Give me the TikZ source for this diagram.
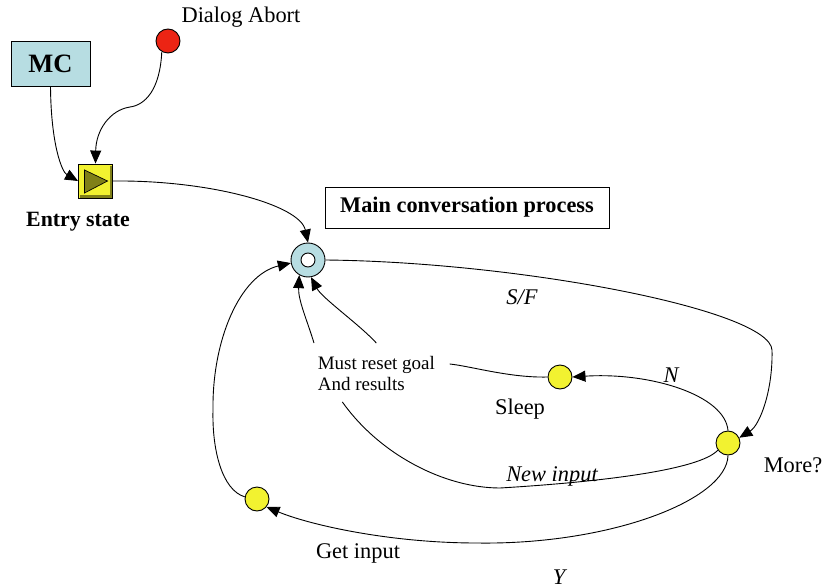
\documentclass[tikz,border=0pt]{standalone}
\usepackage{fontspec}
\setmainfont{Liberation Serif}
\usetikzlibrary{arrows.meta}
\definecolor{mcblue}{RGB}{183,221,226}
\definecolor{stateyellow}{RGB}{242,242,48}
\definecolor{abortred}{RGB}{236,36,20}
\definecolor{entryolive}{RGB}{128,128,24}

\begin{document}
\begin{tikzpicture}[x=1pt, y=-1pt, line width=0.9pt,
    every node/.style={font=\fontsize{22.4}{26}\selectfont},
    state/.style={circle, draw, fill=stateyellow, minimum size=24pt, inner sep=0pt},
    flow/.style={-{Triangle[length=13pt,width=11pt]}},
    cond/.style={font=\fontsize{22.4}{26}\selectfont\itshape}]
    \useasboundingbox (0,0) rectangle (824,588);

    % Inputs: MC and the abort signal
    \node[draw, fill=mcblue, minimum width=79pt, minimum height=45pt,
          font=\fontsize{26.5}{30}\selectfont\bfseries] (mc) at (50.5,63.5) {MC};
    \node[circle, draw, fill=abortred, minimum size=24pt, inner sep=0pt] (abort) at (168,41) {};
    \node (abortlbl) at (241,17) {Dialog Abort};

    % Entry state (yellow box with play mark)
    \node[draw, fill=stateyellow, minimum size=34pt, inner sep=0pt] (entry) at (95.5,181) {};
    \draw[entryolive, line width=2.5pt] ([shift={(2pt,2pt)}]entry.south west)
        -- ([shift={(-2pt,2pt)}]entry.south east) -- ([shift={(-2pt,-2pt)}]entry.north east);
    \filldraw[fill=entryolive, line width=0.7pt] ([shift={(-11pt,11pt)}]entry.center)
        -- ([shift={(-11pt,-12pt)}]entry.center) -- ([shift={(12pt,0pt)}]entry.center) -- cycle;
    \node[font=\fontsize{21.8}{25}\selectfont\bfseries] (entrylbl) at (78,222) {Entry state};

    % Main conversation process
    \node[circle, draw, fill=mcblue, minimum size=34pt, inner sep=0pt] (main) at (308,260) {};
    \draw[fill=white] (main.center) circle (7pt);
    \node[draw, minimum width=284pt, minimum height=41pt,
          font=\fontsize{22.3}{26}\selectfont\bfseries] (mainbox) at (467,207.5) {Main conversation process};

    % Inner states
    \node[state] (sleep) at (560,377) {};
    \node (sleeplbl) at (520,409) {Sleep};
    \node[state] (more) at (728,443) {};
    \node (morelbl) at (793,465) {More?};
    \node[state] (getin) at (257,499) {};
    \node (getinlbl) at (358,553) {Get input};
    \node[align=left, anchor=west, font=\fontsize{19}{21}\selectfont] (reset) at (314,373)
        {Must reset goal\\And results};

    % Condition labels
    \node[cond] (sf) at (522,297) {S/F};
    \node[cond] (no) at (671,375) {N};
    \node[cond] (newin) at (552,476) {New input};
    \node[cond] (yes) at (559,577) {Y};

    % Connectors
    \draw[flow] (mc.south) .. controls (51,145) and (62,172) .. (entry.west);
    \draw[flow] (abort.240) .. controls (160,90) and (145,105) .. (130,107)
        .. controls (110,110) and (96,130) .. (entry.north);
    \draw[flow] (entry.east) .. controls (210,180) and (300,205) .. (main.north);
    \draw[flow] (main.east) .. controls (520,262) and (770,310) .. (772,350)
        .. controls (773,390) and (760,425) .. (more.25);
    \draw[flow] (more.north) .. controls (725,395) and (650,372) .. (sleep.east);
    \draw (sleep.west) .. controls (510,378) and (470,366) .. ([shift={(11pt,9pt)}]reset.east);
    \draw[flow] ([yshift=9pt]reset.north) .. controls (360,325) and (322,298) .. (main.-80);
    \draw[flow] ([yshift=9pt]reset.north west) .. controls (307,320) and (298,300) .. (main.-120);
    \draw (more.215) .. controls (700,470) and (600,482) .. (500,488)
        .. controls (445,488) and (380,455) .. ([shift={(-34pt,-8pt)}]reset.south);
    \draw[flow] (more.south) .. controls (727,500) and (610,545) .. (477,543)
        .. controls (390,543) and (310,525) .. (getin.-40);
    \draw[flow] (getin.170) .. controls (222,490) and (212,450) .. (213,410)
        .. controls (212,340) and (240,275) .. (main.190);
\end{tikzpicture}
\end{document}
